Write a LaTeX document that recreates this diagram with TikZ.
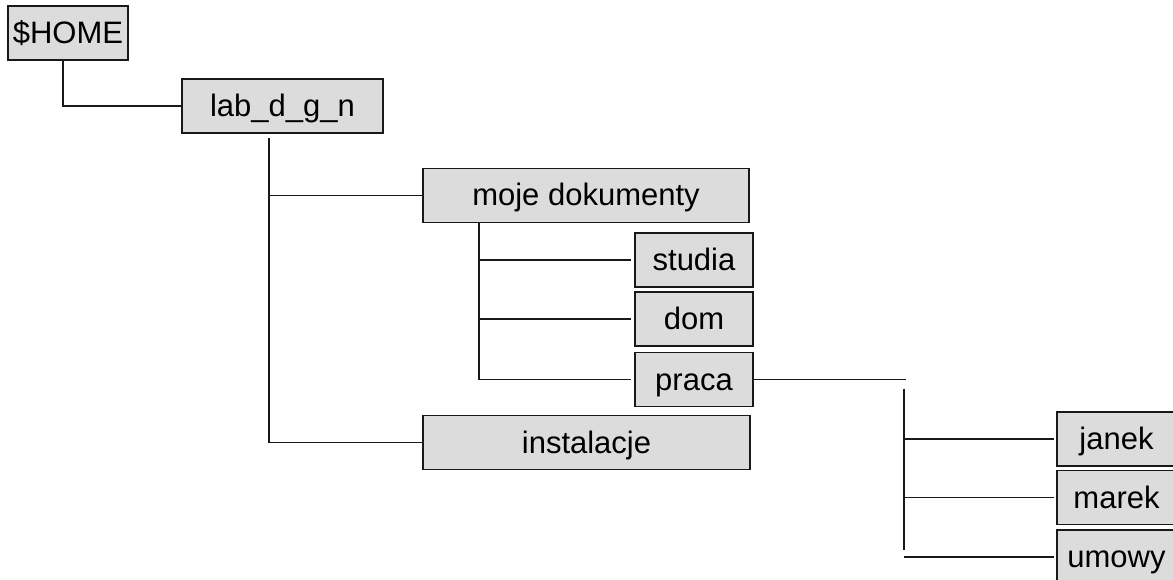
\documentclass[tikz,border=0pt]{standalone}
\usepackage{fontspec}
\setmainfont{Liberation Sans}
\usetikzlibrary{calc}
\definecolor{dirgray}{RGB}{220,220,220}
\begin{document}
\begin{tikzpicture}[x=1pt,y=-1pt]
  \tikzset{dir/.style={draw=black!90,fill=dirgray,line width=1.6pt,inner sep=0pt,
      minimum height=54pt,minimum width=#1,text height=26pt,text depth=5pt,
      font=\fontsize{31}{31}\selectfont},
    link/.style={line width=1.6pt,black!90}}
  \useasboundingbox (0,0) rectangle (1173,580);

  \node [dir=120pt] (home) at (68,33) {\$HOME};
  \node [dir=201pt] (lab) at (282.5,106) {lab\_d\_g\_n};
  \node [dir=326pt] (moje) at (586,195.5) {moje dokumenty};
  \node [dir=118pt] (studia) at (694,260) {studia};
  \node [dir=118pt] (dom) at (694,319) {dom};
  \node [dir=118pt] (praca) at (694,379.5) {praca};
  \node [dir=327pt] (instal) at (586.5,442.5) {instalacje};
  \node [dir=119pt] (janek) at (1116.5,439) {janek};
  \node [dir=119pt] (marek) at (1116.5,497.5) {marek};
  \node [dir=119pt] (umowy) at (1116.5,557) {umowy};

  % connectors
  \draw[link] ([xshift=-5pt]home.south) |- (lab.west);
  \coordinate (labbus) at ([xshift=-13.5pt,yshift=-4pt]lab.south);
  \draw[link] (labbus) |- (instal.west);
  \draw[link] (labbus |- moje.west) -- (moje.west);
  \coordinate (mojebus) at ([xshift=57pt]moje.south west);
  \draw[link] (mojebus) |- ([xshift=-3pt]praca.west);
  \foreach \d in {studia,dom}
    \draw[link] (mojebus |- \d.west) -- ([xshift=-3pt]\d.west);
  \coordinate (pracaend) at ([xshift=152pt]praca.east);
  \draw[link] (praca.east) -- (pracaend);
  \draw[link] ([xshift=-2pt,yshift=-9pt]pracaend) -- ([xshift=-2pt,yshift=7pt]pracaend |- umowy.west);
  \foreach \d in {janek,marek,umowy}
    \draw[link] ([xshift=-2pt]pracaend |- \d.west) -- ([xshift=-2pt]\d.west);
\end{tikzpicture}
\end{document}
